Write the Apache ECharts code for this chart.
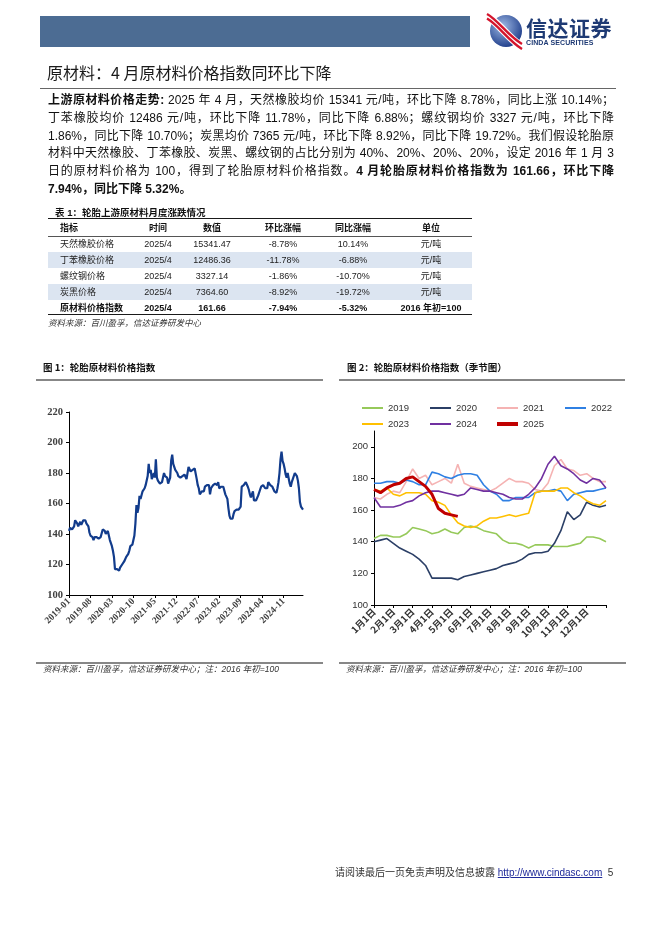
<!DOCTYPE html>
<html><head><meta charset="utf-8">
<script src="https://cdn.jsdelivr.net/npm/echarts@6/dist/echarts.min.js"></script>
<style>
html,body{margin:0;padding:0;background:#fff;}
#page{position:relative;width:662px;height:936px;overflow:hidden;font-family:"Liberation Sans","Noto Sans CJK SC",sans-serif;color:#111;}
#c{position:absolute;left:0;top:0;width:662px;height:936px;}
.a{position:absolute;white-space:nowrap;}
.ln{position:absolute;left:48px;width:566px;height:18px;line-height:18px;font-size:12px;text-align:justify;text-align-last:justify;white-space:normal;overflow:hidden;}
.ln.last{text-align-last:left;}
b{font-weight:700;}
.cell{position:absolute;height:16px;line-height:16px;font-size:9px;white-space:nowrap;}
</style>
</head><body>
<div id="page">
<div id="c"></div>
<!-- header -->
<div class="a" style="left:40px;top:16px;width:430px;height:31px;background:#4C6C93;"></div>
<svg class="a" style="left:484px;top:12px" width="42" height="38" viewBox="0 0 42 38">
<defs><radialGradient id="g" cx="40%" cy="35%" r="70%"><stop offset="0" stop-color="#9DB8E4"/><stop offset="1" stop-color="#1B3A88"/></radialGradient></defs>
<circle cx="22" cy="19" r="16" fill="url(#g)"/>
<path d="M3 4 C 14 10, 24 26, 38 35" stroke="#fff" stroke-width="8" fill="none"/>
<path d="M3 2 C 14 8, 24 24, 38 32" stroke="#D4142C" stroke-width="2.4" fill="none"/>
<path d="M3 6.5 C 14 12.5, 24 28.5, 38 37" stroke="#D4142C" stroke-width="2.4" fill="none"/>
</svg>
<div class="a" style="left:526px;top:15px;font-size:21px;font-weight:700;color:#1E3A74;letter-spacing:0.5px;font-family:'Noto Sans CJK SC';line-height:24px;">信达证券</div>
<div class="a" style="left:526px;top:38px;font-size:7px;font-weight:700;color:#1E3A74;line-height:9px;letter-spacing:0.1px;">CINDA SECURITIES</div>
<div class="a" style="left:47px;top:62px;font-size:16px;line-height:20px;color:#1a1a1a;font-family:'Noto Sans CJK SC';">原材料：4 月原材料价格指数同环比下降</div>
<div class="a" style="left:40px;top:88px;width:576px;height:1px;background:#666;"></div>
<!-- body text -->
<div class="ln" style="top:91px;"><b>上游原材料价格走势:</b> 2025 年 4 月，天然橡胶均价 15341 元/吨，环比下降 8.78%，同比上涨 10.14%；</div>
<div class="ln" style="top:108.8px;">丁苯橡胶均价 12486 元/吨，环比下降 11.78%，同比下降 6.88%；螺纹钢均价 3327 元/吨，环比下降</div>
<div class="ln" style="top:126.6px;">1.86%，同比下降 10.70%；炭黑均价 7365 元/吨，环比下降 8.92%，同比下降 19.72%。我们假设轮胎原</div>
<div class="ln" style="top:144.4px;">材料中天然橡胶、丁苯橡胶、炭黑、螺纹钢的占比分别为 40%、20%、20%、20%，设定 2016 年 1 月 3</div>
<div class="ln" style="top:162.2px;">日的原材料价格为 100，得到了轮胎原材料价格指数。<b>4 月轮胎原材料价格指数为 161.66，环比下降</b></div>
<div class="ln last" style="top:180px;"><b>7.94%，同比下降 5.32%。</b></div>
<!-- table -->
<div class="a" style="left:55px;top:206px;font-size:9.5px;font-weight:700;line-height:13px;color:#111;">表 1：轮胎上游原材料月度涨跌情况</div>
<div id="tbl"></div>
<div class="a" style="left:48px;top:317px;font-size:8.5px;font-style:italic;line-height:12px;color:#333;">资料来源：百川盈孚，信达证券研发中心</div>
<!-- footer -->
<div class="a" style="left:335px;top:866px;font-size:10px;line-height:14px;color:#333;">请阅读最后一页免责声明及信息披露 <span style="color:#1F2A9A;text-decoration:underline;">http://www.cindasc.com</span>&nbsp; 5</div>
</div>
<script>
// ---------- table data ----------
const tableHeader = ['指标','时间','数值','环比涨幅','同比涨幅','单位'];
const tableRows = [
  ['天然橡胶价格','2025/4','15341.47','-8.78%','10.14%','元/吨'],
  ['丁苯橡胶价格','2025/4','12486.36','-11.78%','-6.88%','元/吨'],
  ['螺纹钢价格','2025/4','3327.14','-1.86%','-10.70%','元/吨'],
  ['炭黑价格','2025/4','7364.60','-8.92%','-19.72%','元/吨'],
  ['原材料价格指数','2025/4','161.66','-7.94%','-5.32%','2016 年初=100']
];
// ---------- chart data (readings on the 1st, 11th, 21st of each month; last = Dec 31) ----------
const seasonMonths = ['1月','2月','3月','4月','5月','6月','7月','8月','9月','10月','11月','12月'];
const seasonDays = ['1日','11日','21日'];
const y2019 = [142,144,144, 143,143,145, 149,148,147, 145,146,148, 146,145,149, 150,149,147, 146,145,141, 139,139,138, 136,138,138, 138,137,137, 137,138,139, 143,143,142, 140];
const y2020 = [140,141,142, 139,136,134, 132,129,125, 117,117,117, 117,116,118, 119,120,121, 122,123,125, 126,127,129, 132,133,133, 134,139,147, 159,154,157, 165,163,162, 163];
const y2021 = [168,167,170, 172,171,178, 186,180,182, 176,178,180, 177,189,177, 175,174,173, 172,174,177, 180,178,178, 177,173,172, 177,188,192, 186,185,182, 183,180,178, 178];
const y2022 = [177,177,178, 178,177,179, 178,176,176, 184,183,181, 180,182,183, 183,182,176, 172,170,166, 166,168,168, 168,171,172, 172,173,172, 166,170,171, 172,172,173, 174];
const y2023 = [173,172,174, 170,169,171, 171,171,170, 166,165,163, 157,152,150, 149,150,153, 155,155,156, 157,156,157, 158,171,172, 172,172,174, 174,171,169, 166,164,163, 166];
const y2024 = [168,162,162, 162,163,165, 166,169,171, 172,172,171, 170,169,170, 174,173,172, 172,171,170, 168,167,167, 170,174,180, 189,194,188, 186,183,179, 177,180,179, 174];
const y2025 = [173,171,174, 176,177,180, 181,178,175, 170,161,158, 157,156];
const seasonNames = ['2019','2020','2021','2022','2023','2024','2025'];
const seasonColors = ['#96C95A','#2B3F66','#F5B3B3','#2F80E3','#FFC000','#7030A0','#C00000'];

// build table
(function(){
  const t = document.getElementById('tbl');
  const add = (html)=>{ t.insertAdjacentHTML('beforeend', html); };
  const centers = [null,158,212,283,353,431];
  add('<div class="a" style="left:48px;top:218px;width:424px;height:1px;background:#1a1a1a;"></div>');
  add('<div class="a" style="left:48px;top:236px;width:424px;height:1px;background:#555;"></div>');
  add('<div class="a" style="left:48px;top:252px;width:424px;height:16px;background:#DCE5F1;"></div>');
  add('<div class="a" style="left:48px;top:283.5px;width:424px;height:16px;background:#DCE5F1;"></div>');
  add('<div class="a" style="left:48px;top:314px;width:424px;height:1px;background:#1a1a1a;"></div>');
  const rowTops = [220, 236, 252, 268, 283.5, 299.5];
  const allRows = [tableHeader].concat(tableRows);
  allRows.forEach((r,ri)=>{
    const bold = (ri===0 || ri===allRows.length-1);
    r.forEach((v,ci)=>{
      const st = 'top:'+rowTops[ri]+'px;font-weight:'+(bold?700:400)+';color:'+(bold?'#111':'#222')+';';
      if(ci===0){
        add('<div class="cell" style="left:60px;'+st+'">'+v+'</div>');
      } else {
        add('<div class="cell" style="left:'+(centers[ci]-50)+'px;width:100px;text-align:center;'+st+'">'+v+'</div>');
      }
    });
  });
})();

// categories
const seasonCats = [];
seasonMonths.forEach(m=>seasonDays.forEach(d=>seasonCats.push(m+d)));
seasonCats.push('12月31日');
const years = ['2019','2020','2021','2022','2023','2024','2025'];
const mm = ['01','02','03','04','05','06','07','08','09','10','11','12'];
const dd = ['01','11','21'];
const seasonData = [y2019,y2020,y2021,y2022,y2023,y2024,y2025];
const dates1 = [], index1 = [];
years.forEach((y,yi)=>{
  const arr = seasonData[yi];
  mm.forEach((m,mi)=>dd.forEach((d,di)=>{
    const k = mi*3+di;
    if(k < arr.length && k < 36){ dates1.push(y+'-'+m+'-'+d); index1.push(arr[k]); }
  }));
});

const chart = echarts.init(document.getElementById('c'), null, {width:662, height:936});
const serifLab = {fontFamily:'"Liberation Serif", serif', fontWeight:'bold', color:'#404040'};
const legends = seasonNames.map((n,i)=>({
  data:[n], left:[362,430,497,565][i%4], top: i<4 ? 403 : 419,
  icon:'rect', itemWidth:21, itemHeight: n==='2025'?4:2, padding:0, selectedMode:false,
  textStyle:{fontSize:9.5, fontFamily:'"Liberation Sans", Arial', color:'#333'}
}));
const option = {
  animation:false,
  legend: legends,
  grid:[
    {left:69, top:412, width:234, height:183},
    {left:374, top:431, width:232, height:174}
  ],
  xAxis:[
    {gridIndex:0, type:'category', data:dates1, boundaryGap:false,
     axisLine:{lineStyle:{color:'#000', width:1}},
     axisTick:{show:true, interval:20, length:3, lineStyle:{color:'#000'}},
     axisLabel:Object.assign({interval:20, rotate:45, fontSize:9.5, margin:5, formatter:v=>v.slice(0,7)}, serifLab)},
    {gridIndex:1, type:'category', data:seasonCats, boundaryGap:false,
     axisLine:{lineStyle:{color:'#000', width:1}},
     axisTick:{show:true, interval:(i)=>i%3===0, length:3, lineStyle:{color:'#000'}},
     axisLabel:{interval:(i)=>i%3===0 && i<36, rotate:45, fontSize:9.5, margin:5, fontWeight:'bold',
       fontFamily:'"Noto Sans CJK SC", sans-serif', color:'#333'}}
  ],
  yAxis:[
    {gridIndex:0, type:'value', min:100, max:220, interval:20,
     axisLine:{show:true, lineStyle:{color:'#000', width:1}},
     axisTick:{show:true, length:3, lineStyle:{color:'#000'}},
     splitLine:{show:false},
     axisLabel:Object.assign({fontSize:10.5, margin:6}, serifLab)},
    {gridIndex:1, type:'value', min:100, max:210, interval:20,
     axisLine:{show:true, lineStyle:{color:'#000', width:1}},
     axisTick:{show:true, length:3, lineStyle:{color:'#000'}},
     splitLine:{show:false},
     axisLabel:{fontSize:9.5, margin:6, fontFamily:'"Liberation Sans", Arial', color:'#333', showMaxLabel:false,
       formatter:v=> (v%20===0 ? String(v) : '')}}
  ],
  series:[
    {name:'轮胎原材料价格指数', type:'line', xAxisIndex:0, yAxisIndex:0, data:index1, symbol:'none',
     lineStyle:{color:'#123C8C', width:2.2}, silent:true}
  ].concat(seasonNames.map((n,i)=>({
     name:n, type:'line', xAxisIndex:1, yAxisIndex:1, data:seasonData[i], symbol:'none', silent:true,
     itemStyle:{color:seasonColors[i]},
     lineStyle:{color:seasonColors[i], width: n==='2025'?3:1.6}
  }))),
  graphic:[
    {type:'text', x:43, y:363, style:{text:'图 1：轮胎原材料价格指数', font:'bold 9.5px "Noto Sans CJK SC"', fill:'#111'}},
    {type:'line', shape:{x1:36,y1:380,x2:323,y2:380}, style:{stroke:'#111', lineWidth:1.2}},
    {type:'text', x:347, y:363, style:{text:'图 2：轮胎原材料价格指数（季节图）', font:'bold 9.5px "Noto Sans CJK SC"', fill:'#111'}},
    {type:'line', shape:{x1:339,y1:380,x2:625,y2:380}, style:{stroke:'#111', lineWidth:1.2}},
    {type:'line', shape:{x1:36,y1:663,x2:323,y2:663}, style:{stroke:'#111', lineWidth:1.2}},
    {type:'line', shape:{x1:339,y1:663,x2:626,y2:663}, style:{stroke:'#111', lineWidth:1.2}},
    {type:'text', x:43, y:665, style:{text:'资料来源：百川盈孚，信达证券研发中心；注：2016 年初=100', font:'italic 8.5px "Liberation Sans", "Noto Sans CJK SC"', fill:'#333'}},
    {type:'text', x:346, y:665, style:{text:'资料来源：百川盈孚，信达证券研发中心；注：2016 年初=100', font:'italic 8.5px "Liberation Sans", "Noto Sans CJK SC"', fill:'#333'}}
  ]
};
chart.setOption(option);
</script>
</body></html>
